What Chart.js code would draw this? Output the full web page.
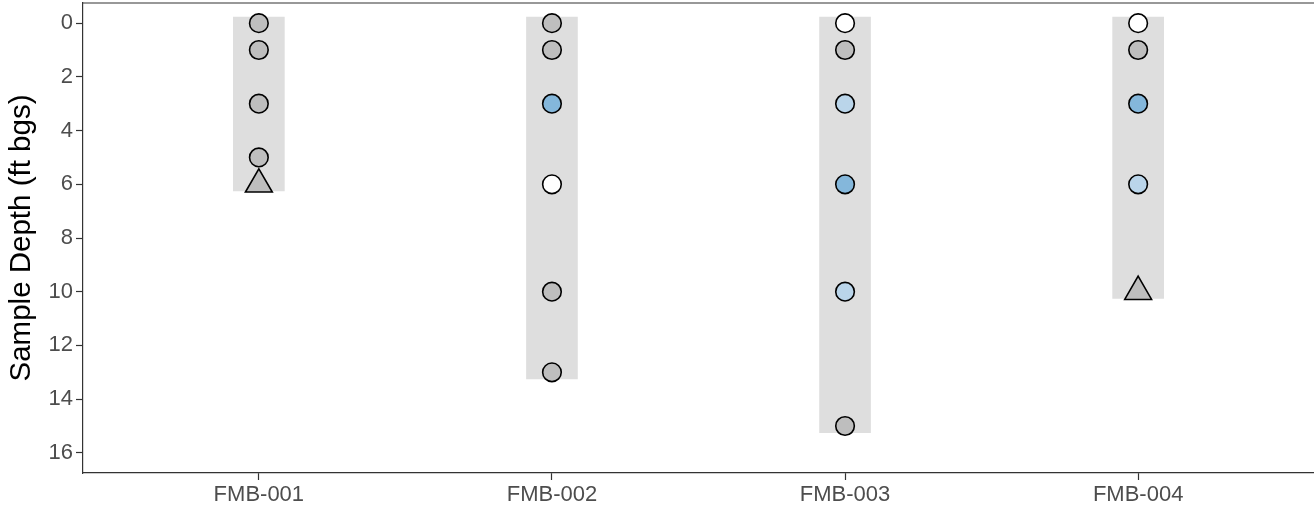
<!DOCTYPE html>
<html>
<head>
<meta charset="utf-8">
<script src="https://cdn.jsdelivr.net/npm/chart.js@4"></script>
<style>
  body { margin: 0; background: #fff; }
  #wrap { width: 1314px; height: 512px; }
</style>
</head>
<body>
<div id="wrap"><canvas id="chart"></canvas></div>
<script>
// borings and total depth of each (ft bgs)
var borings = ['FMB-001', 'FMB-002', 'FMB-003', 'FMB-004'];
var boringDepth = [6, 13, 15, 10];
var depthTicks = [0, 2, 4, 6, 8, 10, 12, 14, 16];

// sample depths and result class per boring
var depthFMB001 = [0, 1, 3, 5];
var classFMB001 = ['na', 'na', 'na', 'na'];
var depthFMB002 = [0, 1, 3, 6, 10, 13];
var classFMB002 = ['na', 'na', 'high', 'nd', 'na', 'na'];
var depthFMB003 = [0, 1, 3, 6, 10, 15];
var classFMB003 = ['nd', 'na', 'low', 'high', 'low', 'na'];
var depthFMB004 = [0, 1, 3, 6];
var classFMB004 = ['nd', 'na', 'high', 'low'];

// refusal (triangles)
var refusalBoring = ['FMB-001', 'FMB-004'];
var refusalDepth = [6, 10];

var classColor = {
  nd: '#ffffff',
  na: '#bebebe',
  low: '#bad5ea',
  high: '#84b7db'
};

var font = "'Liberation Sans', Arial, sans-serif";

function samples(name, depths, classes) {
  var xi = borings.indexOf(name) + 1;
  return {
    type: 'scatter',
    order: 1,
    data: depths.map(function (d) { return { x: xi, y: d }; }),
    pointBackgroundColor: classes.map(function (c) { return classColor[c]; }),
    pointBorderColor: '#000',
    pointBorderWidth: 1.6,
    pointRadius: 9.3,
    pointStyle: 'circle'
  };
}

var topBorder = {
  id: 'topBorder',
  afterDraw: function (chart) {
    var a = chart.chartArea, ctx = chart.ctx;
    ctx.save();
    ctx.strokeStyle = '#333';
    ctx.lineWidth = 1.2;
    ctx.beginPath();
    ctx.moveTo(a.left, a.top);
    ctx.lineTo(a.right, a.top);
    ctx.stroke();
    ctx.restore();
  }
};

var chart = new Chart(document.getElementById('chart'), {
  type: 'scatter',
  data: {
    datasets: [
      {
        type: 'bar',
        order: 2,
        data: borings.map(function (b, i) { return { x: i + 1, y: [-0.23, boringDepth[i] + 0.25] }; }),
        backgroundColor: '#dedede',
        borderWidth: 0,
        barThickness: 51
      },
      samples('FMB-001', depthFMB001, classFMB001),
      samples('FMB-002', depthFMB002, classFMB002),
      samples('FMB-003', depthFMB003, classFMB003),
      samples('FMB-004', depthFMB004, classFMB004),
      {
        type: 'scatter',
        order: 0,
        data: refusalBoring.map(function (b, i) { return { x: borings.indexOf(b) + 1, y: refusalDepth[i] }; }),
        pointBackgroundColor: '#bebebe',
        pointBorderColor: '#000',
        pointBorderWidth: 1.6,
        pointRadius: 15.5,
        pointStyle: 'triangle'
      }
    ]
  },
  options: {
    responsive: true,
    maintainAspectRatio: false,
    animation: false,
    layout: { autoPadding: false, padding: { top: 3, right: 0, bottom: 0, left: 0 } },
    plugins: {
      legend: { display: false },
      tooltip: { enabled: false }
    },
    scales: {
      x: {
        type: 'linear',
        min: 0.4,
        max: 4.6,
        offset: false,
        afterBuildTicks: function (scale) {
          scale.ticks = borings.map(function (b, i) { return { value: i + 1 }; });
        },
        afterFit: function (scale) {
          scale.height = 39;
          scale.paddingLeft = 0;
          scale.paddingRight = 0;
        },
        ticks: {
          padding: 2,
          maxRotation: 0,
          color: '#4d4d4d',
          font: { family: font, size: 22 },
          callback: function (v) { return borings[v - 1] || ''; }
        },
        grid: { offset: false, drawOnChartArea: false, tickLength: 7, tickColor: '#333', tickWidth: 1.2 },
        border: { display: true, color: '#333', width: 1.2 }
      },
      y: {
        type: 'linear',
        reverse: true,
        min: -0.75,
        max: 16.75,
        afterBuildTicks: function (scale) {
          scale.ticks = depthTicks.map(function (v) { return { value: v }; });
        },
        afterFit: function (scale) {
          scale.width = 83;
          scale.paddingTop = 0;
          scale.paddingBottom = 0;
        },
        ticks: {
          padding: 3,
          color: '#4d4d4d',
          font: { family: font, size: 22 }
        },
        grid: { drawOnChartArea: false, tickLength: 7, tickColor: '#333', tickWidth: 1.2 },
        border: { display: true, color: '#333', width: 1.2 },
        title: {
          display: true,
          text: 'Sample Depth (ft bgs)',
          color: '#000',
          font: { family: font, size: 29.5 },
          padding: { top: 4, bottom: 0 }
        }
      }
    }
  },
  plugins: [topBorder]
});
</script>
</body>
</html>
